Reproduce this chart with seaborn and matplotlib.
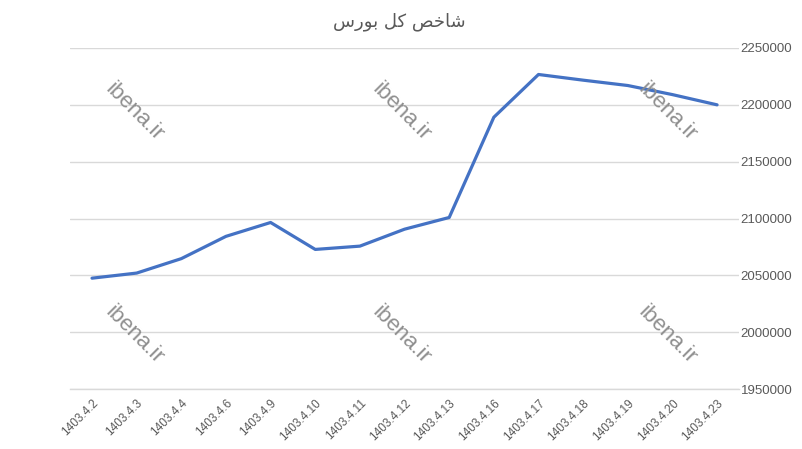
import pandas as pd
import matplotlib.pyplot as plt
import seaborn as sns

# dates (jalali) and index values
dates = ["1403.4.2", "1403.4.3", "1403.4.4", "1403.4.6", "1403.4.9",
         "1403.4.10", "1403.4.11", "1403.4.12", "1403.4.13", "1403.4.16",
         "1403.4.17", "1403.4.18", "1403.4.19", "1403.4.20", "1403.4.23"]
index_values = [2047500, 2052000, 2064700, 2084300, 2096500,
                2072800, 2075700, 2090600, 2100900, 2189100,
                2226700, 2221700, 2217000, 2209000, 2200000]
y_ticks = [1950000, 2000000, 2050000, 2100000, 2150000, 2200000, 2250000]

# "شاخص کل بورس" in shaped presentation forms, visual order (matplotlib has no RTL shaping)
title_text = "\uFEB1\uFEAD\uFEEE\uFE91 \uFEDE\uFB90 \uFEBA\uFEA7\uFE8E\uFEB7"
watermark = "ibena.ir"

TEXT_GREY = "#595959"
GRID_GREY = "#d9d9d9"


def make_chart():
    sns.set_style("white")
    plt.rcParams["font.family"] = ["Liberation Sans", "DejaVu Sans"]

    df = pd.DataFrame({"date": dates, "value": index_values})

    fig = plt.figure(figsize=(8.03, 4.49), dpi=100)
    ax = fig.add_axes([0.0868, 0.1336, 0.834, 0.7595])

    sns.lineplot(data=df, x="date", y="value", ax=ax, sort=False,
                 color="#4472C4", linewidth=2.3)

    ax.set_xlim(-0.5, len(dates) - 0.5)
    ax.set_ylim(y_ticks[0], y_ticks[-1])
    ax.set_yticks(y_ticks)
    ax.set_yticklabels([str(v) for v in y_ticks])
    ax.yaxis.tick_right()
    ax.grid(axis="y", color=GRID_GREY, linewidth=1)
    ax.set_axisbelow(True)
    for side in ["top", "left", "right"]:
        ax.spines[side].set_visible(False)
    ax.spines["bottom"].set_color(GRID_GREY)
    ax.spines["bottom"].set_linewidth(1)

    ax.tick_params(axis="both", length=0, colors=TEXT_GREY)
    ax.tick_params(axis="y", pad=1, labelsize=9.5)
    ax.tick_params(axis="x", pad=6, labelsize=8.5)
    plt.setp(ax.get_xticklabels(), rotation=45, ha="right", rotation_mode="anchor")
    ax.set_xlabel("")
    ax.set_ylabel("")

    fig.text(0.497, 0.951, title_text, ha="center", va="center",
             fontsize=13, color=TEXT_GREY, family=["DejaVu Sans"])

    # watermark stamps
    for (px, py) in [(134, 112), (401, 112), (667, 112),
                     (134, 335), (401, 335), (667, 335)]:
        fig.text(px / 803, 1 - py / 449, watermark, rotation=-45,
                 ha="center", va="center", fontsize=16, color="#8f8f8f",
                 rotation_mode="anchor")

    fig.savefig("out.png", dpi=100)
    plt.close(fig)


if __name__ == "__main__":
    make_chart()
